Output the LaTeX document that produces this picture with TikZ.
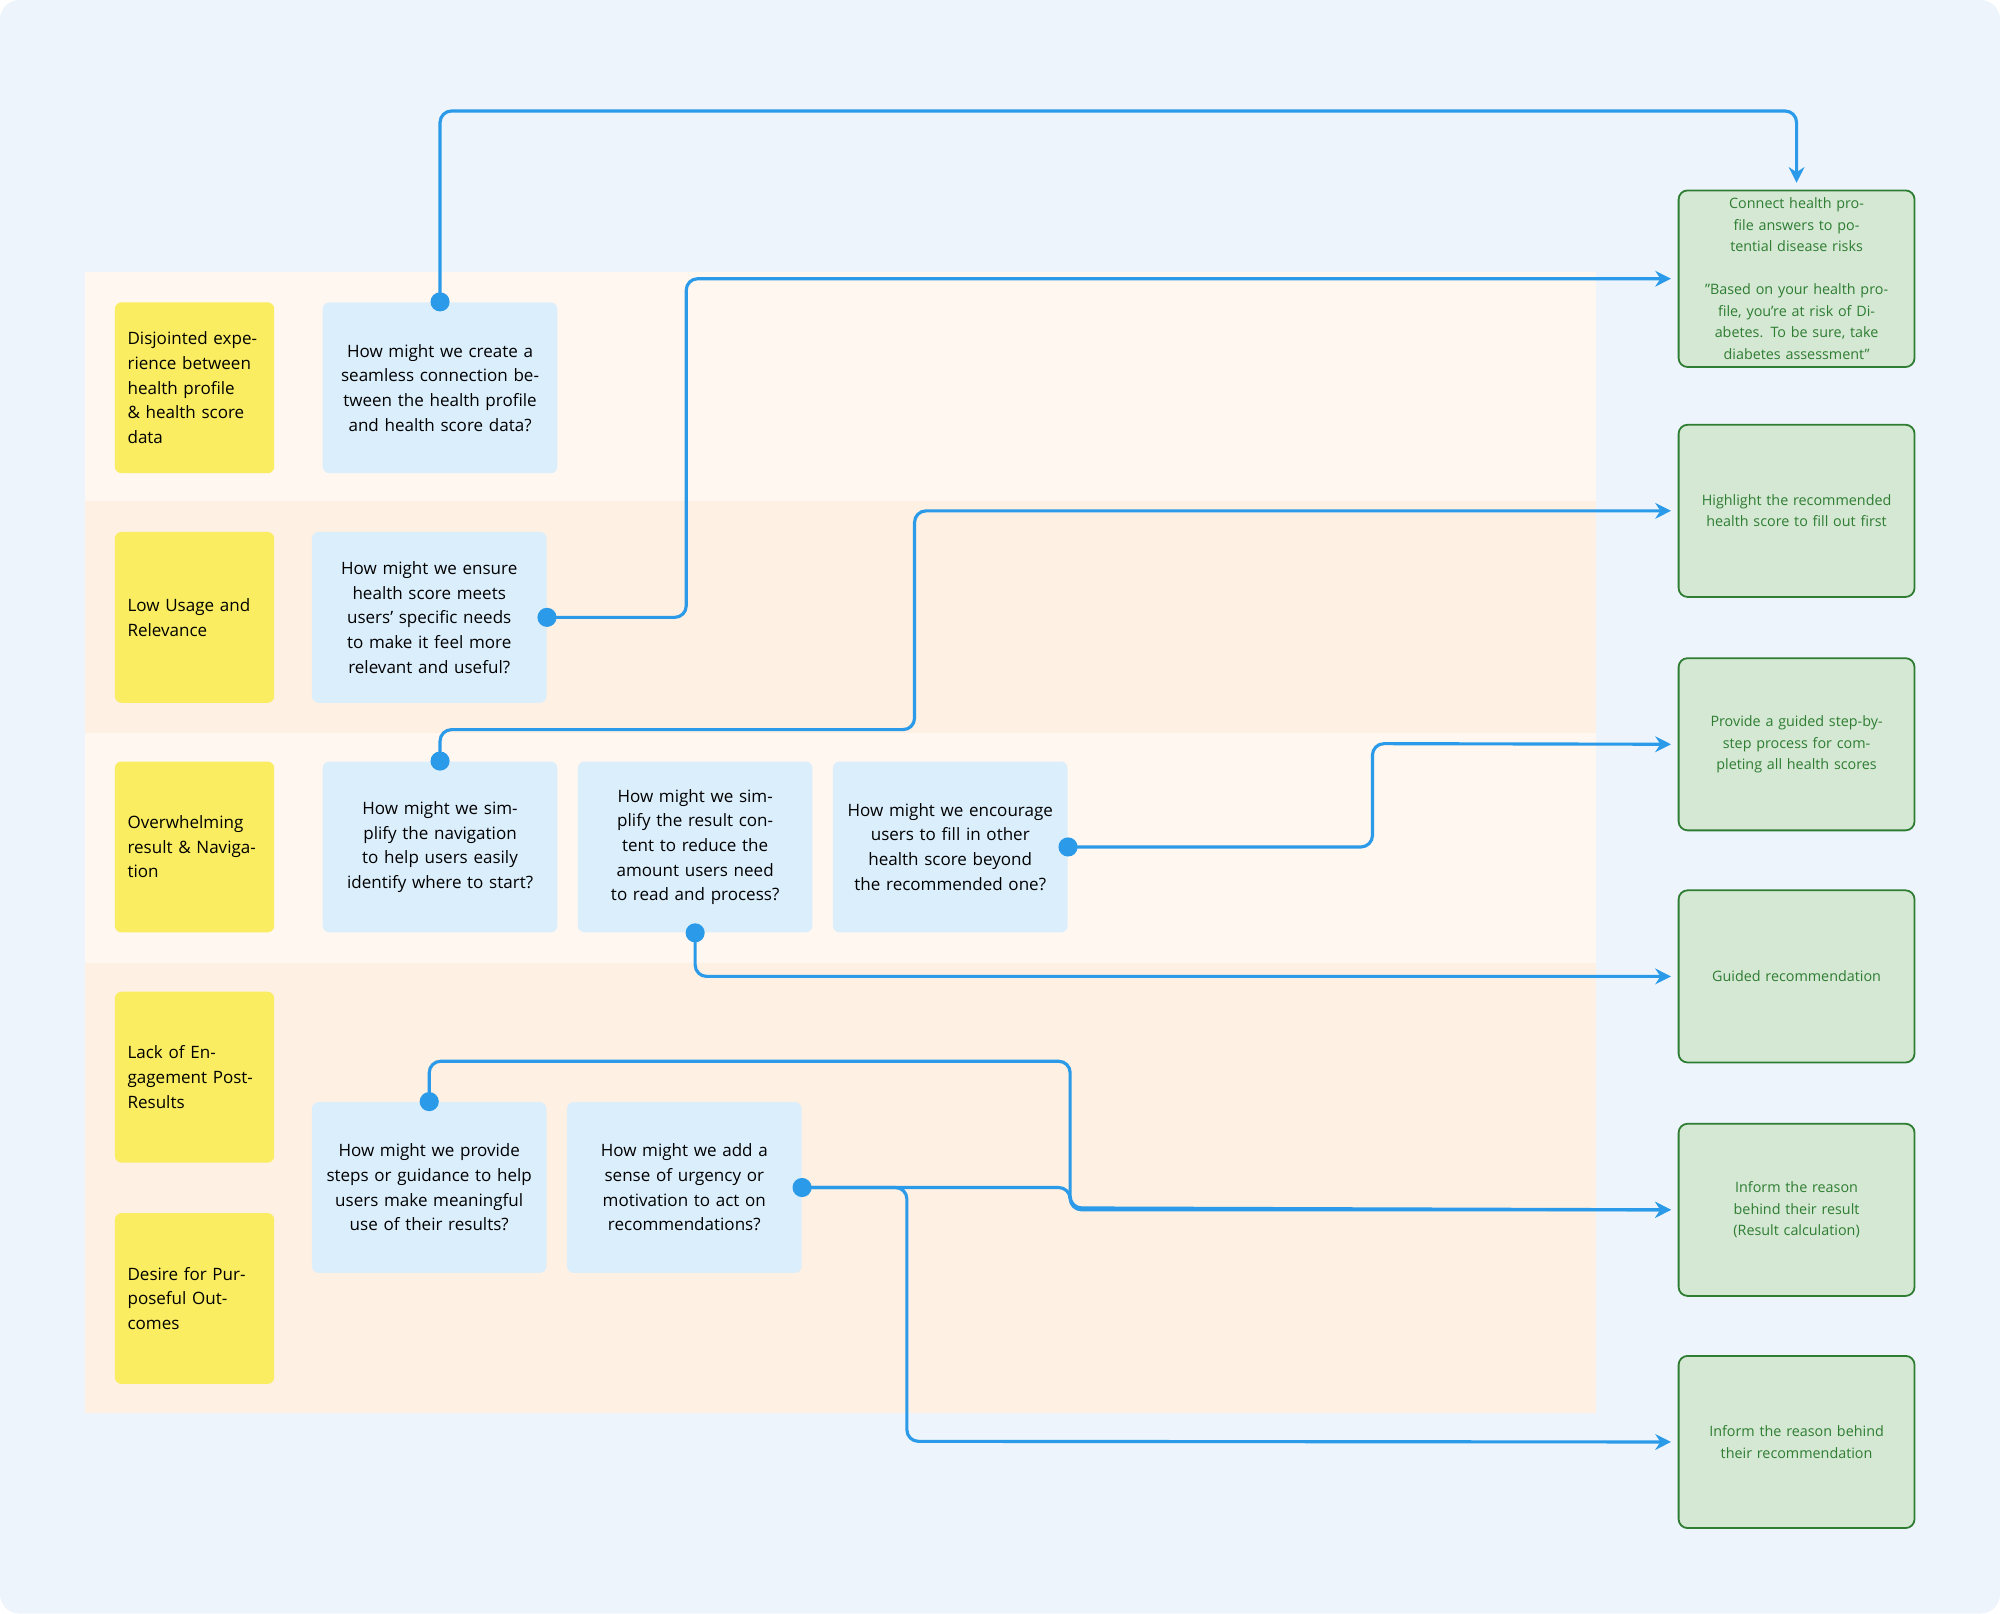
\documentclass[tikz,border=0pt]{standalone}
\usepackage{fontspec}
\setmainfont{Open Sans}
\usetikzlibrary{arrows.meta}
\definecolor{bgc}{HTML}{EDF4FB}
\definecolor{rowa}{HTML}{FFF7F0}
\definecolor{rowb}{HTML}{FEF0E2}
\definecolor{yel}{HTML}{FAED62}
\definecolor{qbox}{HTML}{DBEEFC}
\definecolor{gfill}{HTML}{D5E8D4}
\definecolor{gline}{HTML}{2E7D32}
\definecolor{link}{HTML}{2B9AE8}
\tikzset{
  pain/.style={fill=yel, rounded corners=3pt, minimum width=2.5cm, minimum height=2.68cm,
    text width=2.1cm, align=left, font=\fontsize{7.6}{11}\selectfont},
  hmw/.style={fill=qbox, rounded corners=3pt, minimum width=3.68cm, minimum height=2.68cm,
    text width=3.3cm, align=center, font=\fontsize{7.6}{11}\selectfont},
  idea/.style={fill=gfill, draw=gline, thick, rounded corners=4pt, minimum width=3.7cm,
    minimum height=2.7cm, text width=3.3cm, align=center, text=gline,
    font=\fontsize{6.4}{9.6}\selectfont},
  conn/.style={link, line width=1.4pt, rounded corners=0.18cm, -{Stealth[length=7pt,width=7pt]}, shorten >=3pt},
  dot/.style={fill=link, circle, inner sep=0pt, minimum size=0.3cm}
}
\begin{document}
\begin{tikzpicture}[x=0.02cm,y=-0.02cm]
\useasboundingbox (0,0) rectangle (1568,1265);
\fill[bgc, rounded corners=0.3cm] (0,0) rectangle (1568,1265);
% swimlanes
\fill[rowa] (67,213) rectangle (1251,393);
\fill[rowb] (67,393) rectangle (1251,575);
\fill[rowa] (67,575) rectangle (1251,755);
\fill[rowb] (67,755) rectangle (1251,1108);
% pain points
\node[pain] (p1) at (152.5,304) {Disjointed experience between health profile \& health score data};
\node[pain] (p2) at (152.5,484) {Low Usage and Relevance};
\node[pain] (p3) at (152.5,664) {Overwhelming result \& Navigation};
\node[pain] (p4) at (152.5,844.5) {Lack of Engagement Post-Results};
\node[pain] (p5) at (152.5,1018) {Desire for Purposeful Outcomes};
% how might we
\node[hmw] (q1) at (345,304) {How might we create a seamless connection between the health profile and health score data?};
\node[hmw] (q2) at (336.5,484) {How might we ensure health score meets users’ specific needs to make it feel more relevant and useful?};
\node[hmw] (q3) at (345,664) {How might we simplify the navigation to help users easily identify where to start?};
\node[hmw] (q4) at (545,664) {How might we simplify the result content to reduce the amount users need to read and process?};
\node[hmw] (q5) at (745,664) {How might we encourage users to fill in other health score beyond the recommended one?};
\node[hmw] (q6) at (336.5,931) {How might we provide steps or guidance to help users make meaningful use of their results?};
\node[hmw] (q7) at (536.5,931) {How might we add a sense of urgency or motivation to act on recommendations?};
% ideas
\node[idea] (g1) at (1408.5,218.5) {Connect health profile answers to potential disease risks\\[9.6pt]"Based on your health profile, you're at risk of Diabetes. To be sure, take diabetes assessment"};
\node[idea] (g2) at (1408.5,400.5) {Highlight the recommended health score to fill out first};
\node[idea] (g3) at (1408.5,583.5) {Provide a guided step-by-step process for completing all health scores};
\node[idea] (g4) at (1408.5,765.5) {Guided recommendation};
\node[idea] (g5) at (1408.5,948.5) {Inform the reason behind their result\\(Result calculation)};
\node[idea] (g6) at (1408.5,1130.5) {Inform the reason behind their recommendation};
% connectors
\draw[conn] (q1.north) |- (700,87) -| (g1.north);
\draw[conn] (q2.east) -| (538,350) |- (g1.west);
\draw[conn] (q3.north) |- (717,572) |- (g2.west);
\draw[conn] (q5.east) -| (1076,583) -- (g3.west);
\draw[conn] (q4.south) |- (g4.west);
\draw[conn] (q6.north) |- (839,832) |- (g5.west);
\draw[conn] (q7.east) -| (839,947) -- (g5.west);
\draw[conn] (q7.east) -| (711,1130) -- (g6.west);
% start dots
\node[dot] (d1) at (q1.north) {};
\node[dot] (d2) at (q2.east) {};
\node[dot] (d3) at (q3.north) {};
\node[dot] (d4) at (q4.south) {};
\node[dot] (d5) at (q5.east) {};
\node[dot] (d6) at (q6.north) {};
\node[dot] (d7) at (q7.east) {};
\end{tikzpicture}
\end{document}
